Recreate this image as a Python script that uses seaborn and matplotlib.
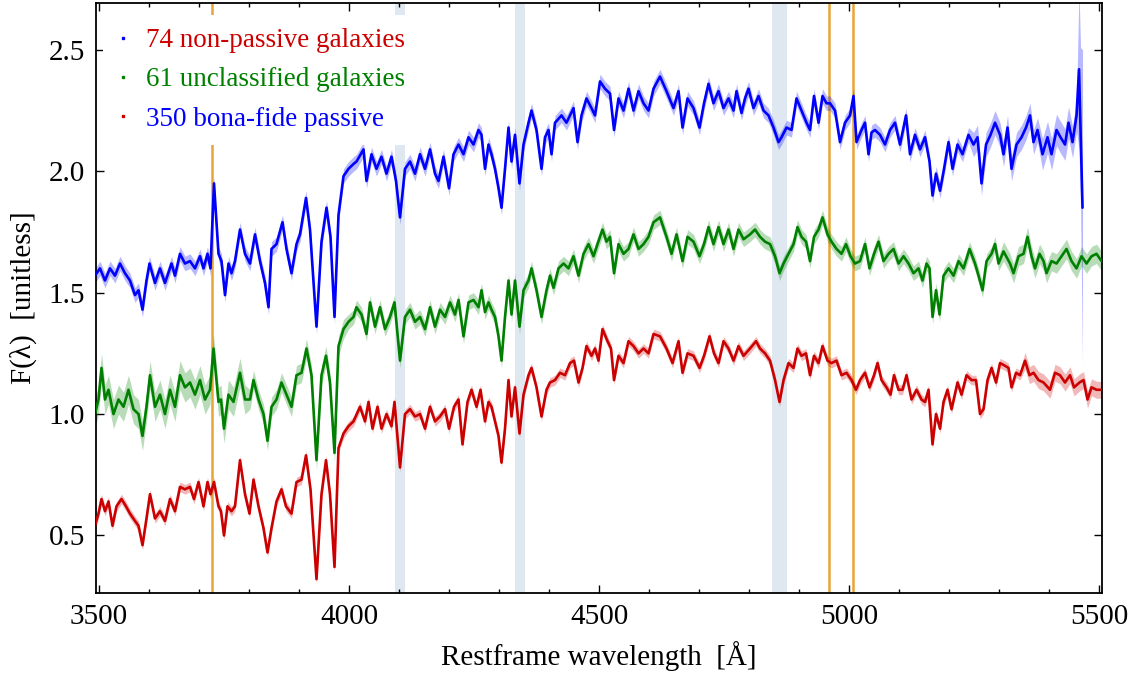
import numpy as np
import pandas as pd
import matplotlib
matplotlib.use("Agg")
import matplotlib.pyplot as plt
from matplotlib.lines import Line2D
from matplotlib.ticker import MultipleLocator
import seaborn as sns

# Stacked rest-frame spectra: (wavelength [Å], normalised flux)
passive = [
    (3492, 1.57), (3502, 1.60), (3512, 1.55), (3522, 1.60), (3532, 1.57), (3542, 1.62), (3552, 1.58),
    (3562, 1.55), (3572, 1.49), (3579, 1.51), (3587, 1.43), (3595, 1.55), (3601, 1.62), (3612, 1.54),
    (3622, 1.60), (3632, 1.54), (3645, 1.62), (3652, 1.57), (3662, 1.66), (3672, 1.62), (3682, 1.63),
    (3692, 1.60), (3702, 1.65), (3709, 1.60), (3717, 1.66), (3723, 1.60), (3730, 1.95), (3739, 1.66),
    (3745, 1.63), (3752, 1.49), (3759, 1.62), (3765, 1.58), (3772, 1.63), (3782, 1.76), (3792, 1.66),
    (3802, 1.62), (3812, 1.74), (3822, 1.63), (3832, 1.54), (3839, 1.44), (3845, 1.68), (3855, 1.70),
    (3867, 1.79), (3875, 1.68), (3885, 1.58), (3895, 1.70), (3902, 1.74), (3914, 1.89), (3922, 1.76),
    (3935, 1.36), (3945, 1.71), (3955, 1.85), (3963, 1.73), (3971, 1.40), (3979, 1.82), (3989, 1.98),
    (3999, 2.01), (4009, 2.03), (4015, 2.04), (4029, 2.09), (4035, 1.96), (4045, 2.07), (4055, 2.01),
    (4065, 2.06), (4075, 1.99), (4085, 2.06), (4094, 1.96), (4102, 1.81), (4112, 2.01), (4122, 2.04),
    (4132, 1.99), (4142, 2.07), (4152, 2.01), (4162, 2.09), (4172, 1.99), (4179, 1.96), (4189, 2.06),
    (4200, 1.93), (4209, 2.07), (4219, 2.11), (4229, 2.07), (4239, 2.14), (4249, 2.11), (4259, 2.17),
    (4265, 2.15), (4272, 2.01), (4279, 2.11), (4285, 2.07), (4292, 2.01), (4299, 1.93), (4305, 1.85),
    (4312, 2.01), (4319, 2.18), (4325, 2.04), (4332, 2.15), (4341, 1.95), (4349, 2.11), (4359, 2.20),
    (4365, 2.25), (4375, 2.17), (4385, 2.01), (4392, 2.14), (4399, 2.17), (4405, 2.07), (4412, 2.20),
    (4425, 2.23), (4435, 2.20), (4449, 2.26), (4457, 2.12), (4465, 2.23), (4475, 2.30), (4485, 2.26),
    (4492, 2.23), (4502, 2.37), (4512, 2.34), (4522, 2.32), (4530, 2.17), (4539, 2.30), (4549, 2.25),
    (4559, 2.34), (4569, 2.25), (4579, 2.33), (4589, 2.28), (4599, 2.25), (4609, 2.34), (4622, 2.39),
    (4635, 2.33), (4649, 2.26), (4659, 2.33), (4667, 2.18), (4677, 2.30), (4689, 2.26), (4701, 2.18),
    (4710, 2.28), (4719, 2.36), (4729, 2.28), (4739, 2.33), (4749, 2.26), (4759, 2.30), (4769, 2.25),
    (4775, 2.33), (4785, 2.24), (4792, 2.30), (4799, 2.34), (4809, 2.26), (4819, 2.31), (4829, 2.25),
    (4839, 2.23), (4849, 2.18), (4859, 2.12), (4865, 2.14), (4875, 2.18), (4885, 2.17), (4895, 2.30),
    (4905, 2.25), (4915, 2.20), (4922, 2.17), (4930, 2.31), (4939, 2.20), (4947, 2.31), (4955, 2.28),
    (4962, 2.28), (4972, 2.25), (4982, 2.12), (4992, 2.20), (5002, 2.23), (5009, 2.31), (5015, 2.12),
    (5025, 2.17), (5032, 2.20), (5039, 2.07), (5045, 2.16), (5052, 2.17), (5062, 2.15), (5072, 2.11),
    (5082, 2.17), (5092, 2.20), (5102, 2.11), (5114, 2.23), (5122, 2.07), (5132, 2.15), (5142, 2.09),
    (5152, 2.14), (5161, 2.04), (5167, 1.90), (5174, 1.99), (5182, 1.92), (5190, 2.01), (5199, 2.12),
    (5207, 2.01), (5217, 2.11), (5227, 2.07), (5239, 2.15), (5249, 2.11), (5257, 2.14), (5265, 1.95),
    (5274, 2.11), (5283, 2.15), (5292, 2.20), (5302, 2.15), (5309, 2.07), (5317, 2.18), (5325, 2.01),
    (5335, 2.11), (5345, 2.14), (5354, 2.18), (5362, 2.23), (5369, 2.12), (5377, 2.17), (5387, 2.07),
    (5397, 2.14), (5405, 2.07), (5415, 2.17), (5423, 2.14), (5432, 2.11), (5439, 2.20), (5447, 2.12),
    (5455, 2.23), (5460, 2.42), (5463, 2.18), (5467, 1.85),
]

unclassified = [
    (3492, 1.00), (3499, 1.06), (3505, 1.19), (3512, 1.06), (3519, 1.10), (3529, 1.00), (3539, 1.06),
    (3549, 1.03), (3559, 1.10), (3569, 1.02), (3579, 1.00), (3587, 0.91), (3595, 1.03), (3602, 1.16),
    (3612, 1.03), (3622, 1.08), (3632, 1.00), (3642, 1.10), (3652, 1.03), (3662, 1.16), (3672, 1.11),
    (3682, 1.13), (3692, 1.08), (3702, 1.14), (3712, 1.06), (3722, 1.10), (3729, 1.27), (3739, 1.05),
    (3744, 1.06), (3750, 0.94), (3759, 1.08), (3769, 1.05), (3782, 1.17), (3792, 1.06), (3802, 1.06),
    (3809, 1.14), (3819, 1.06), (3829, 1.00), (3837, 0.89), (3845, 1.03), (3855, 1.06), (3865, 1.13),
    (3875, 1.08), (3885, 1.03), (3895, 1.16), (3905, 1.17), (3915, 1.27), (3925, 1.16), (3935, 0.81),
    (3945, 1.16), (3954, 1.24), (3962, 1.13), (3971, 0.84), (3979, 1.28), (3989, 1.35), (3999, 1.38),
    (4009, 1.40), (4015, 1.44), (4025, 1.41), (4035, 1.33), (4042, 1.46), (4052, 1.36), (4062, 1.44),
    (4072, 1.35), (4082, 1.40), (4091, 1.46), (4102, 1.22), (4112, 1.40), (4122, 1.43), (4132, 1.38),
    (4142, 1.40), (4152, 1.35), (4162, 1.44), (4172, 1.36), (4182, 1.43), (4192, 1.40), (4202, 1.46),
    (4212, 1.41), (4219, 1.47), (4229, 1.32), (4239, 1.46), (4249, 1.47), (4259, 1.44), (4265, 1.51),
    (4272, 1.42), (4279, 1.46), (4285, 1.43), (4292, 1.40), (4299, 1.32), (4305, 1.22), (4312, 1.40),
    (4319, 1.55), (4325, 1.41), (4332, 1.55), (4341, 1.36), (4349, 1.51), (4359, 1.55), (4365, 1.60),
    (4375, 1.51), (4385, 1.40), (4395, 1.51), (4402, 1.57), (4409, 1.52), (4419, 1.60), (4429, 1.62),
    (4439, 1.60), (4449, 1.65), (4459, 1.57), (4469, 1.66), (4479, 1.70), (4489, 1.65), (4497, 1.70),
    (4507, 1.76), (4515, 1.71), (4522, 1.73), (4530, 1.58), (4539, 1.70), (4549, 1.66), (4559, 1.68),
    (4569, 1.74), (4579, 1.68), (4589, 1.70), (4599, 1.73), (4609, 1.79), (4622, 1.81), (4635, 1.73),
    (4645, 1.66), (4655, 1.74), (4667, 1.63), (4677, 1.73), (4689, 1.71), (4701, 1.65), (4710, 1.70),
    (4719, 1.77), (4729, 1.70), (4739, 1.77), (4749, 1.70), (4759, 1.76), (4769, 1.68), (4779, 1.76),
    (4789, 1.72), (4802, 1.74), (4812, 1.76), (4822, 1.73), (4832, 1.71), (4842, 1.70), (4852, 1.65),
    (4861, 1.58), (4869, 1.62), (4879, 1.66), (4889, 1.70), (4897, 1.77), (4905, 1.73), (4914, 1.71),
    (4922, 1.63), (4930, 1.73), (4939, 1.76), (4947, 1.81), (4957, 1.74), (4965, 1.71), (4975, 1.68),
    (4985, 1.66), (4994, 1.70), (5003, 1.65), (5012, 1.62), (5022, 1.63), (5032, 1.70), (5041, 1.60),
    (5050, 1.66), (5059, 1.71), (5069, 1.63), (5079, 1.66), (5089, 1.68), (5099, 1.62), (5109, 1.65),
    (5119, 1.62), (5129, 1.58), (5139, 1.60), (5147, 1.55), (5155, 1.62), (5161, 1.60), (5167, 1.40),
    (5174, 1.51), (5181, 1.41), (5189, 1.57), (5199, 1.60), (5209, 1.57), (5219, 1.63), (5229, 1.60),
    (5241, 1.68), (5252, 1.62), (5259, 1.57), (5267, 1.51), (5275, 1.63), (5285, 1.66), (5292, 1.70),
    (5299, 1.62), (5309, 1.67), (5322, 1.62), (5329, 1.58), (5339, 1.65), (5349, 1.66), (5357, 1.73),
    (5365, 1.65), (5372, 1.60), (5381, 1.66), (5389, 1.63), (5395, 1.58), (5405, 1.63), (5415, 1.62),
    (5425, 1.65), (5435, 1.68), (5445, 1.63), (5455, 1.60), (5465, 1.65), (5475, 1.62), (5485, 1.65),
    (5495, 1.66), (5505, 1.63),
]

non_passive = [
    (3492, 0.54), (3499, 0.59), (3505, 0.65), (3512, 0.60), (3519, 0.64), (3527, 0.54), (3535, 0.62),
    (3545, 0.65), (3554, 0.62), (3562, 0.59), (3572, 0.56), (3579, 0.54), (3587, 0.46), (3595, 0.57),
    (3602, 0.67), (3612, 0.57), (3622, 0.60), (3632, 0.56), (3642, 0.65), (3652, 0.60), (3662, 0.70),
    (3672, 0.69), (3682, 0.70), (3690, 0.65), (3699, 0.72), (3709, 0.62), (3717, 0.72), (3723, 0.67),
    (3730, 0.72), (3739, 0.62), (3744, 0.60), (3750, 0.50), (3757, 0.62), (3765, 0.60), (3772, 0.62),
    (3782, 0.81), (3792, 0.67), (3801, 0.59), (3809, 0.73), (3819, 0.62), (3829, 0.53), (3837, 0.43),
    (3845, 0.53), (3855, 0.64), (3865, 0.69), (3874, 0.62), (3885, 0.59), (3895, 0.72), (3905, 0.73),
    (3914, 0.83), (3923, 0.69), (3935, 0.32), (3945, 0.67), (3954, 0.81), (3962, 0.67), (3971, 0.37),
    (3979, 0.86), (3989, 0.92), (3999, 0.95), (4009, 0.97), (4022, 1.03), (4032, 0.97), (4039, 1.05),
    (4047, 0.94), (4057, 1.03), (4065, 0.94), (4075, 1.00), (4085, 0.95), (4091, 1.05), (4102, 0.78),
    (4112, 1.00), (4122, 1.02), (4132, 0.99), (4142, 1.00), (4152, 0.94), (4162, 1.03), (4172, 0.97),
    (4182, 0.99), (4192, 1.02), (4200, 0.94), (4210, 1.03), (4219, 1.06), (4227, 0.875), (4237, 1.05),
    (4245, 1.10), (4255, 1.03), (4263, 1.10), (4272, 0.97), (4279, 1.05), (4285, 1.03), (4292, 0.97),
    (4299, 0.91), (4305, 0.80), (4312, 0.94), (4319, 1.14), (4325, 0.99), (4332, 1.11), (4341, 0.92),
    (4349, 1.08), (4359, 1.16), (4365, 1.19), (4375, 1.11), (4385, 0.99), (4395, 1.10), (4402, 1.13),
    (4412, 1.14), (4422, 1.17), (4432, 1.16), (4442, 1.21), (4450, 1.22), (4459, 1.13), (4467, 1.19),
    (4475, 1.28), (4485, 1.24), (4492, 1.27), (4499, 1.22), (4507, 1.35), (4517, 1.30), (4524, 1.27),
    (4530, 1.14), (4539, 1.24), (4549, 1.21), (4559, 1.30), (4569, 1.28), (4579, 1.25), (4589, 1.27),
    (4599, 1.25), (4609, 1.33), (4622, 1.32), (4635, 1.27), (4647, 1.21), (4659, 1.30), (4667, 1.17),
    (4677, 1.25), (4689, 1.24), (4701, 1.19), (4710, 1.24), (4721, 1.32), (4730, 1.25), (4739, 1.21),
    (4749, 1.30), (4759, 1.27), (4769, 1.22), (4779, 1.28), (4789, 1.24), (4802, 1.27), (4814, 1.30),
    (4822, 1.27), (4832, 1.25), (4842, 1.22), (4852, 1.14), (4861, 1.05), (4869, 1.14), (4879, 1.21),
    (4889, 1.19), (4897, 1.27), (4905, 1.24), (4914, 1.25), (4922, 1.16), (4930, 1.24), (4939, 1.21),
    (4947, 1.28), (4957, 1.22), (4965, 1.21), (4975, 1.22), (4985, 1.16), (4995, 1.17), (5005, 1.14),
    (5014, 1.10), (5022, 1.14), (5032, 1.17), (5041, 1.11), (5050, 1.16), (5057, 1.21), (5065, 1.14),
    (5075, 1.11), (5083, 1.08), (5090, 1.16), (5099, 1.10), (5107, 1.10), (5115, 1.16), (5125, 1.06),
    (5135, 1.10), (5145, 1.06), (5152, 1.05), (5159, 1.10), (5167, 0.875), (5174, 1.00), (5182, 0.94),
    (5189, 1.05), (5197, 1.10), (5205, 1.02), (5217, 1.13), (5225, 1.08), (5235, 1.16), (5245, 1.14),
    (5254, 1.14), (5262, 1.00), (5269, 1.02), (5277, 1.14), (5285, 1.19), (5294, 1.13), (5302, 1.21),
    (5311, 1.20), (5319, 1.19), (5325, 1.11), (5334, 1.17), (5342, 1.16), (5352, 1.22), (5361, 1.16),
    (5369, 1.17), (5379, 1.14), (5389, 1.13), (5402, 1.10), (5412, 1.17), (5422, 1.16), (5432, 1.13),
    (5442, 1.16), (5450, 1.11), (5461, 1.13), (5469, 1.14), (5477, 1.06), (5485, 1.11), (5495, 1.10),
    (5505, 1.10),
]

# 1-sigma half-width of each stack, as levels starting at the given wavelengths
passive_err_from = [3490, 5240, 5380, 5458, 5465]
passive_err_level = [0.03, 0.05, 0.065, 0.33, 0.65]
unclassified_err_from = [3490, 3800, 3990, 5300]
unclassified_err_level = [0.06, 0.04, 0.03, 0.04]
non_passive_err_from = [3490, 5350]
non_passive_err_level = [0.02, 0.035]

legend_labels = ["74 non-passive galaxies", "61 unclassified galaxies", "350 bona-fide passive"]

# Emission lines ([OII], [OIII]) and Balmer absorption windows
emission_lines = [3727, 4959, 5007]
balmer_windows = [(4092, 4112), (4332, 4352), (4846, 4876)]

BLUE, GREEN, RED = "#0000ff", "#008000", "#cc0000"
ORANGE, WINDOW = "#e6a537", "#dfe8f0"

sns.set_theme(style="ticks")
plt.rcParams["font.family"] = ["Liberation Serif", "DejaVu Serif"]
plt.rcParams.update({"text.color": "black", "axes.labelcolor": "black",
                     "xtick.color": "black", "ytick.color": "black"})

fig = plt.figure(figsize=(11.36, 6.81), dpi=100)
ax = fig.add_axes([0.0845, 0.1292, 0.8856, 0.8664])

for lo, hi in balmer_windows:
    ax.axvspan(lo, hi, color=WINDOW, lw=0, zorder=0)
for wl in emission_lines:
    ax.axvline(wl, color=ORANGE, lw=1.8, zorder=1)


def stack_frame(points, err_from, err_level):
    df = pd.DataFrame(points, columns=["wave", "flux"])
    idx = np.searchsorted(err_from, df["wave"].to_numpy(), side="right") - 1
    df["err"] = np.asarray(err_level)[idx]
    return df


stacks = [
    (stack_frame(passive, passive_err_from, passive_err_level), BLUE),
    (stack_frame(unclassified, unclassified_err_from, unclassified_err_level), GREEN),
    (stack_frame(non_passive, non_passive_err_from, non_passive_err_level), RED),
]

for df, color in stacks:
    ax.fill_between(df["wave"], df["flux"] - df["err"], df["flux"] + df["err"],
                    color=color, alpha=0.28, lw=0, zorder=2)
    sns.lineplot(data=df, x="wave", y="flux", color=color, lw=1.9, sort=False,
                 estimator=None, ax=ax, zorder=3, legend=False)

ax.set_xlim(3494, 5506)
ax.set_ylim(0.263, 2.693)
ax.xaxis.set_major_locator(MultipleLocator(500))
ax.xaxis.set_minor_locator(MultipleLocator(100))
ax.yaxis.set_major_locator(MultipleLocator(0.5))

ax.tick_params(which="both", direction="in", top=True, right=True, colors="black")
ax.tick_params(which="major", length=6, width=1.0, labelsize=21, pad=8)
ax.tick_params(which="minor", length=3, width=1.0)
for sp in ax.spines.values():
    sp.set_linewidth(1.3)
    sp.set_color("black")

ax.set_xlabel("Restframe wavelength  [Å]", fontsize=21, labelpad=8, color="black")
ax.set_ylabel("F(λ)  [unitless]", fontsize=21, labelpad=8, color="black")

handles = [Line2D([], [], ls="none", marker="s", ms=2, color=c) for c in (BLUE, GREEN, RED)]
leg = ax.legend(handles, legend_labels, loc="upper left", bbox_to_anchor=(0.007, 0.98),
                fontsize=19.5, frameon=True, framealpha=1, facecolor="white",
                edgecolor="none", fancybox=False, borderaxespad=0, borderpad=0.5,
                handlelength=0.45, handletextpad=0.63, labelspacing=0.52)
for text, c in zip(leg.get_texts(), (RED, GREEN, BLUE)):
    text.set_color(c)

fig.savefig("out.png", dpi=100)
